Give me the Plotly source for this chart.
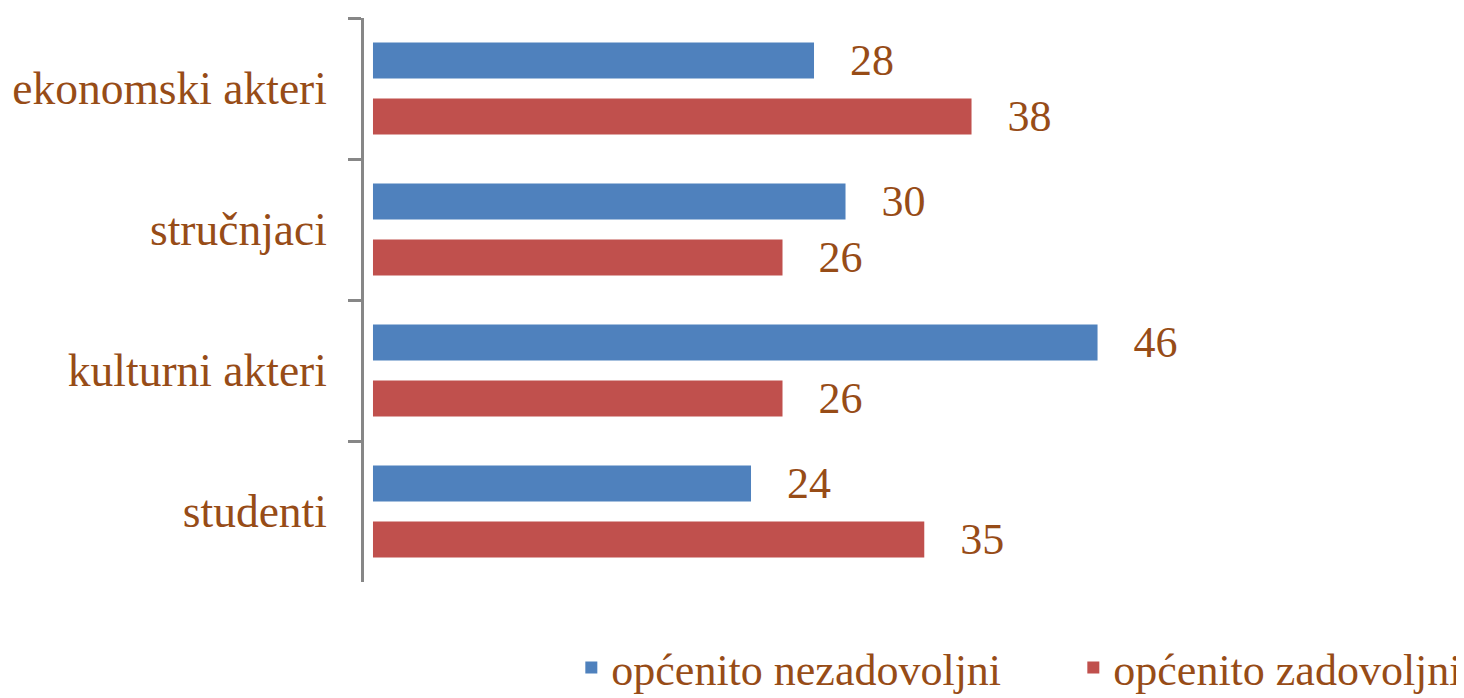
import plotly.graph_objects as go

categories = ["ekonomski akteri", "stručnjaci", "kulturni akteri", "studenti"]
nezadovoljni = [28, 30, 46, 24]
zadovoljni = [38, 26, 26, 35]
series_names = ["općenito nezadovoljni", "općenito zadovoljni"]

TEXT = "#974C17"
FONT = "Liberation Serif"
BLUE = "#4F81BD"
RED = "#C0504D"
GREY = "#878787"

fig = go.Figure()
for name, vals, col in [(series_names[0], nezadovoljni, BLUE), (series_names[1], zadovoljni, RED)]:
    fig.add_trace(go.Bar(
        y=categories, x=vals, name=name, orientation="h",
        marker=dict(color=col, line=dict(width=0)),
        text=vals, texttemplate="\u00a0\u00a0\u00a0%{x}",
        textposition="outside", constraintext="none", cliponaxis=False,
        textfont=dict(family=FONT, size=44, color=TEXT),
    ))

fig.update_layout(
    width=1456, height=690,
    margin=dict(l=356, r=36, t=10, b=116),
    paper_bgcolor="white", plot_bgcolor="white",
    barmode="group", bargap=0.206, bargroupgap=0.357,
    font=dict(family=FONT, size=44, color=TEXT),
    showlegend=True,
    legend=dict(orientation="h", xref="container", yref="container",
                x=0.3869, xanchor="left", y=0.0435, yanchor="middle",
                font=dict(family=FONT, size=44, color=TEXT),
                entrywidth=457, traceorder="normal"),
)
fig.update_xaxes(range=[-0.57, 66.98], visible=False, showgrid=False, zeroline=False,
                 automargin=False)
fig.update_yaxes(autorange="reversed", showline=True, linecolor=GREY, linewidth=3,
                 ticks="outside", ticklen=13, tickwidth=3, tickcolor=GREY,
                 tickson="boundaries", showgrid=False, ticklabelstandoff=25,
                 automargin=False,
                 tickfont=dict(family=FONT, size=45.5, color=TEXT))

fig.write_html("out.html")
